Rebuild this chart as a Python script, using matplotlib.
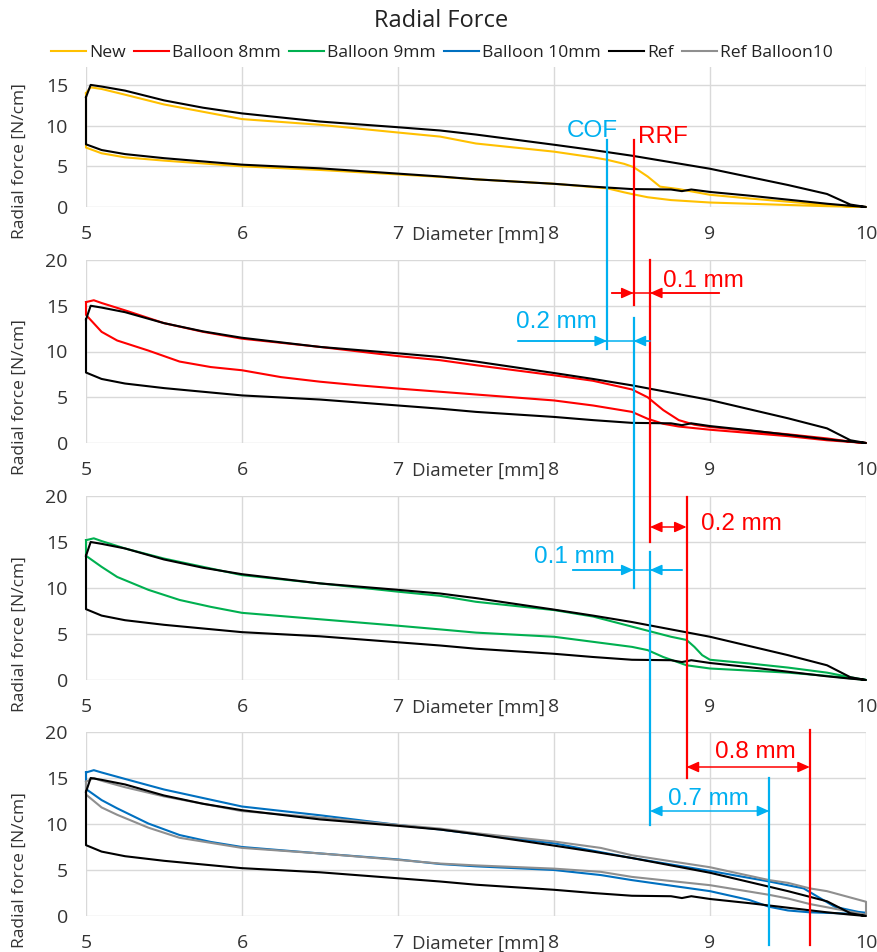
import matplotlib
matplotlib.use("Agg")
import matplotlib.pyplot as plt
from matplotlib.lines import Line2D
from matplotlib.patches import FancyArrowPatch
from matplotlib.transforms import blended_transform_factory

# ---------------- data ----------------
# Ref (black) loop: upper = radial resistive force, lower = chronic outward force
ref_up_x = [5.0, 5.03, 5.1, 5.25, 5.5, 5.75, 6.0, 6.5, 7.0, 7.27, 7.5, 8.0, 8.25, 8.5, 8.75, 9.0, 9.25, 9.5, 9.75, 9.9, 10.0]
ref_up_y = [13.5, 15.0, 14.8, 14.3, 13.1, 12.2, 11.5, 10.5, 9.8, 9.4, 8.9, 7.65, 7.0, 6.3, 5.5, 4.7, 3.7, 2.7, 1.6, 0.3, 0.0]
ref_lo_x = [5.0, 5.1, 5.25, 5.5, 6.0, 6.5, 7.0, 7.27, 7.5, 8.0, 8.25, 8.5, 8.75, 8.82, 8.88, 9.0, 9.25, 9.5, 9.75, 9.9, 10.0]
ref_lo_y = [7.7, 7.0, 6.5, 6.0, 5.2, 4.75, 4.1, 3.75, 3.4, 2.85, 2.5, 2.2, 2.15, 1.95, 2.15, 1.85, 1.4, 0.9, 0.4, 0.15, 0.0]

# New (yellow)
new_up_x = [5.0, 5.03, 5.1, 5.25, 5.5, 6.0, 6.5, 7.0, 7.27, 7.5, 8.0, 8.25, 8.34, 8.45, 8.51, 8.6, 8.68, 8.8, 9.0, 9.25, 9.5, 9.75, 9.9, 10.0]
new_up_y = [14.0, 14.7, 14.5, 13.8, 12.6, 10.8, 10.1, 9.15, 8.65, 7.8, 6.8, 6.1, 5.8, 5.3, 4.9, 3.75, 2.5, 2.2, 1.5, 1.05, 0.65, 0.25, 0.05, 0.0]
new_lo_x = [5.0, 5.1, 5.25, 5.5, 6.0, 6.5, 7.0, 7.27, 7.5, 8.0, 8.34, 8.45, 8.51, 8.6, 8.75, 9.0, 9.25, 9.5, 9.75, 10.0]
new_lo_y = [7.3, 6.6, 6.1, 5.7, 5.0, 4.55, 4.0, 3.7, 3.4, 2.85, 2.3, 1.8, 1.55, 1.2, 0.85, 0.55, 0.4, 0.25, 0.1, 0.0]

# Balloon 8mm (red)
b8_up_x = [5.0, 5.05, 5.1, 5.25, 5.5, 5.75, 6.0, 6.5, 7.0, 7.27, 7.5, 8.0, 8.25, 8.5, 8.6, 8.7, 8.8, 8.9, 9.0, 9.25, 9.5, 9.75, 9.9, 10.0]
b8_up_y = [15.4, 15.6, 15.3, 14.5, 13.1, 12.15, 11.4, 10.5, 9.5, 9.05, 8.5, 7.4, 6.8, 5.85, 5.0, 3.6, 2.5, 2.0, 1.75, 1.35, 0.95, 0.5, 0.15, 0.0]
b8_lo_x = [5.0, 5.1, 5.2, 5.4, 5.6, 5.8, 6.0, 6.25, 6.5, 6.75, 7.0, 7.27, 7.5, 8.0, 8.25, 8.5, 8.6, 8.7, 8.8, 9.0, 9.5, 9.75, 10.0]
b8_lo_y = [14.0, 12.15, 11.2, 10.1, 8.9, 8.3, 7.95, 7.2, 6.7, 6.3, 5.95, 5.6, 5.3, 4.65, 4.1, 3.4, 2.65, 2.1, 1.8, 1.45, 0.75, 0.3, 0.0]

# Balloon 9mm (green)
b9_up_x = [5.0, 5.05, 5.1, 5.25, 5.5, 6.0, 6.5, 7.0, 7.27, 7.5, 8.0, 8.25, 8.5, 8.75, 8.85, 8.9, 8.95, 9.0, 9.25, 9.5, 9.75, 9.9, 10.0]
b9_up_y = [15.2, 15.4, 15.1, 14.3, 13.2, 11.4, 10.5, 9.6, 9.15, 8.5, 7.6, 6.9, 5.8, 4.7, 4.35, 3.6, 2.7, 2.2, 1.8, 1.35, 0.8, 0.3, 0.0]
b9_lo_x = [5.0, 5.1, 5.2, 5.4, 5.6, 5.8, 6.0, 6.5, 7.0, 7.27, 7.5, 8.0, 8.25, 8.5, 8.6, 8.7, 8.85, 9.0, 9.5, 9.75, 10.0]
b9_lo_y = [13.5, 12.3, 11.2, 9.8, 8.7, 7.95, 7.3, 6.6, 5.9, 5.5, 5.15, 4.7, 4.15, 3.6, 3.25, 2.5, 1.6, 1.25, 0.8, 0.45, 0.0]

# Balloon 10mm (blue)
b10_up_x = [5.0, 5.05, 5.1, 5.25, 5.5, 6.0, 6.5, 7.0, 7.27, 7.5, 8.0, 8.5, 9.0, 9.38, 9.6, 9.65, 9.8, 9.95, 10.0]
b10_up_y = [15.6, 15.85, 15.6, 14.9, 13.75, 11.9, 10.95, 9.9, 9.4, 8.9, 7.9, 6.3, 4.9, 3.75, 3.0, 2.5, 1.0, 0.45, 0.35]
b10_lo_x = [5.0, 5.1, 5.2, 5.4, 5.6, 5.8, 6.0, 6.5, 7.0, 7.27, 7.5, 8.0, 8.3, 8.5, 9.0, 9.25, 9.38, 9.5, 9.64, 10.0]
b10_lo_y = [13.8, 12.6, 11.7, 10.05, 8.8, 8.05, 7.5, 6.8, 6.15, 5.65, 5.4, 5.0, 4.45, 3.9, 2.7, 1.75, 1.0, 0.6, 0.4, 0.2]

# Ref Balloon10 (grey)
rb_up_x = [5.0, 5.05, 5.1, 5.25, 5.5, 6.0, 6.5, 7.0, 7.27, 7.5, 8.0, 8.3, 8.5, 9.0, 9.38, 9.5, 9.64, 9.75, 10.0]
rb_up_y = [14.6, 15.0, 14.7, 14.0, 13.0, 11.4, 10.7, 9.9, 9.5, 9.0, 8.1, 7.4, 6.6, 5.3, 3.9, 3.6, 3.0, 2.7, 1.55]
rb_lo_x = [5.0, 5.1, 5.2, 5.4, 5.6, 5.8, 6.0, 6.5, 7.0, 7.27, 7.5, 8.0, 8.3, 8.5, 9.0, 9.38, 9.5, 9.64, 9.75, 10.0]
rb_lo_y = [13.2, 11.8, 11.0, 9.6, 8.5, 7.95, 7.4, 6.8, 6.1, 5.7, 5.5, 5.15, 4.8, 4.25, 3.35, 2.3, 1.9, 1.3, 0.95, 0.15]

series_labels = ["New", "Balloon 8mm", "Balloon 9mm", "Balloon 10mm", "Ref", "Ref Balloon10"]
series_colors = ["#FFC000", "#FF0000", "#00B050", "#0070C0", "#000000", "#8F8F8F"]

x_ticks = [5, 6, 7, 8, 9, 10]
x_tick_labels = ["5", "6", "7", "8", "9", "10"]

# COF / RRF marker positions (mm) per panel and the shifts between them
cof_x = [8.34, 8.51, 8.615, 9.38]
rrf_x = [8.51, 8.615, 8.85, 9.64]
cof_shift_labels = ["0.2 mm", "0.1 mm", "0.7 mm"]
rrf_shift_labels = ["0.1 mm", "0.2 mm", "0.8 mm"]

# ---------------- figure ----------------
W, H = 878, 952
plt.rcParams['font.family'] = ['Open Sans', 'DejaVu Sans']
fig = plt.figure(figsize=(W / 100, H / 100), dpi=100)


def fy(py):
    return 1 - py / H


AX_L, AX_R = 86, 866
panel_px = [(67, 207), (260, 443), (496, 680), (732, 916)]
panel_ymax = [17.2, 20, 20, 20]
panel_yticks = [[0, 5, 10, 15], [0, 5, 10, 15, 20], [0, 5, 10, 15, 20], [0, 5, 10, 15, 20]]
ylabel_offset = [24, 46, 46, 46]

curves = {
    "New": (new_up_x, new_up_y, new_lo_x, new_lo_y),
    "Balloon 8mm": (b8_up_x, b8_up_y, b8_lo_x, b8_lo_y),
    "Balloon 9mm": (b9_up_x, b9_up_y, b9_lo_x, b9_lo_y),
    "Balloon 10mm": (b10_up_x, b10_up_y, b10_lo_x, b10_lo_y),
    "Ref": (ref_up_x, ref_up_y, ref_lo_x, ref_lo_y),
    "Ref Balloon10": (rb_up_x, rb_up_y, rb_lo_x, rb_lo_y),
}
color_of = dict(zip(series_labels, series_colors))
panel_series = [["New", "Ref"], ["Balloon 8mm", "Ref"], ["Balloon 9mm", "Ref"],
                ["Balloon 10mm", "Ref Balloon10", "Ref"]]

tick_color = "#333333"
axes = []
for i, (top, bot) in enumerate(panel_px):
    ax = fig.add_axes([AX_L / W, fy(bot), (AX_R - AX_L) / W, (bot - top) / H])
    axes.append(ax)
    for name in panel_series[i]:
        ux, uy, lx, ly = curves[name]
        xs = list(ux) + list(lx[::-1]) + [ux[0]]
        ys = list(uy) + list(ly[::-1]) + [uy[0]]
        ax.plot(xs, ys, color=color_of[name], lw=1.5, solid_joinstyle='round', clip_on=False)
    ax.set_xlim(5, 10)
    ax.set_ylim(0, panel_ymax[i])
    ax.set_xticks(x_ticks)
    ax.set_xticklabels(x_tick_labels)
    ax.set_yticks(panel_yticks[i])
    ax.grid(True, color="#D9D9D9", lw=1.0)
    ax.set_axisbelow(True)
    for s in ax.spines.values():
        s.set_visible(False)
    ax.tick_params(length=0, pad=13, labelsize=14, colors=tick_color)
    ax.annotate("Diameter [mm]", xy=(7.515, 0), xycoords=('data', 'axes fraction'),
                xytext=(0, -13.2), textcoords='offset points', ha='center', va='top',
                fontsize=13.4, color=tick_color)
    fig.text(20 / W, fy((top + bot) / 2 + ylabel_offset[i]), "Radial force [N/cm]",
             rotation=90, ha='center', va='center', fontsize=12.5, color=tick_color)

# title and legend
fig.text(441 / W, fy(21), "Radial Force", ha='center', va='center', fontsize=17, color="#222222")
handles = [Line2D([0], [0], color=c, lw=1.5) for c in series_colors]
fig.legend(handles, series_labels, loc='center', bbox_to_anchor=(442 / W, fy(53)), ncol=6,
           frameon=False, fontsize=12.6, handlelength=2.0, handletextpad=0.2,
           columnspacing=0.45, borderpad=0, labelcolor="#222222")

# ---------------- COF / RRF annotations ----------------
BLUE = "#00B0F0"
RED = "#FF0000"
trans = blended_transform_factory(axes[0].transData, fig.transFigure)
afont = dict(family=['Liberation Sans', 'DejaVu Sans'], fontsize=17.5)

cof_span = [(140, 349), (318, 588), (552, 825), (778, 945)]
rrf_span = [(140, 305), (260, 542), (497, 778), (730, 945)]
for xs, spans, col in ((cof_x, cof_span, BLUE), (rrf_x, rrf_span, RED)):
    for x, (y0, y1) in zip(xs, spans):
        fig.add_artist(Line2D([x, x], [fy(y0), fy(y1)], transform=trans, color=col, lw=1.6))

fig.text(592 / W, fy(137), "COF", ha='center', va='baseline', color=BLUE, **afont)
fig.text(663 / W, fy(143), "RRF", ha='center', va='baseline', color=RED, **afont)

ahead = "-|>,head_length=0.45,head_width=0.2"
ahead2 = "<|-|>,head_length=0.45,head_width=0.2"


def inward(x_left, x_right, tail_left, tail_right, py, col):
    fig.add_artist(Line2D([tail_left, tail_right], [fy(py), fy(py)], transform=trans, color=col, lw=1.1))
    for t, h in ((tail_left, x_left), (tail_right, x_right)):
        fig.add_artist(FancyArrowPatch((t, fy(py)), (h, fy(py)), transform=trans, arrowstyle=ahead,
                                       mutation_scale=16, color=col, lw=1.1, shrinkA=0, shrinkB=0))


def double(x_left, x_right, py, col):
    fig.add_artist(FancyArrowPatch((x_left, fy(py)), (x_right, fy(py)), transform=trans, arrowstyle=ahead2,
                                   mutation_scale=16, color=col, lw=1.1, shrinkA=0, shrinkB=0))


# RRF shifts
inward(rrf_x[0], rrf_x[1], 8.37, 9.06, 293, RED)
double(rrf_x[1], rrf_x[2], 527, RED)
double(rrf_x[2], rrf_x[3], 767, RED)
# COF shifts
inward(cof_x[0], cof_x[1], 7.77, 8.615, 341, BLUE)
inward(cof_x[1], cof_x[2], 8.12, 8.82, 570, BLUE)
double(cof_x[2], cof_x[3], 811, BLUE)

rrf_label_pos = [(703, 287), (741, 530), (755, 758)]
cof_label_pos = [(556, 328), (574, 563), (708, 805)]
for lab, (px, py) in zip(rrf_shift_labels, rrf_label_pos):
    fig.text(px / W, fy(py), lab, ha='center', va='baseline', color=RED, **afont)
for lab, (px, py) in zip(cof_shift_labels, cof_label_pos):
    fig.text(px / W, fy(py), lab, ha='center', va='baseline', color=BLUE, **afont)

fig.savefig("out.png", dpi=100, facecolor="white")
